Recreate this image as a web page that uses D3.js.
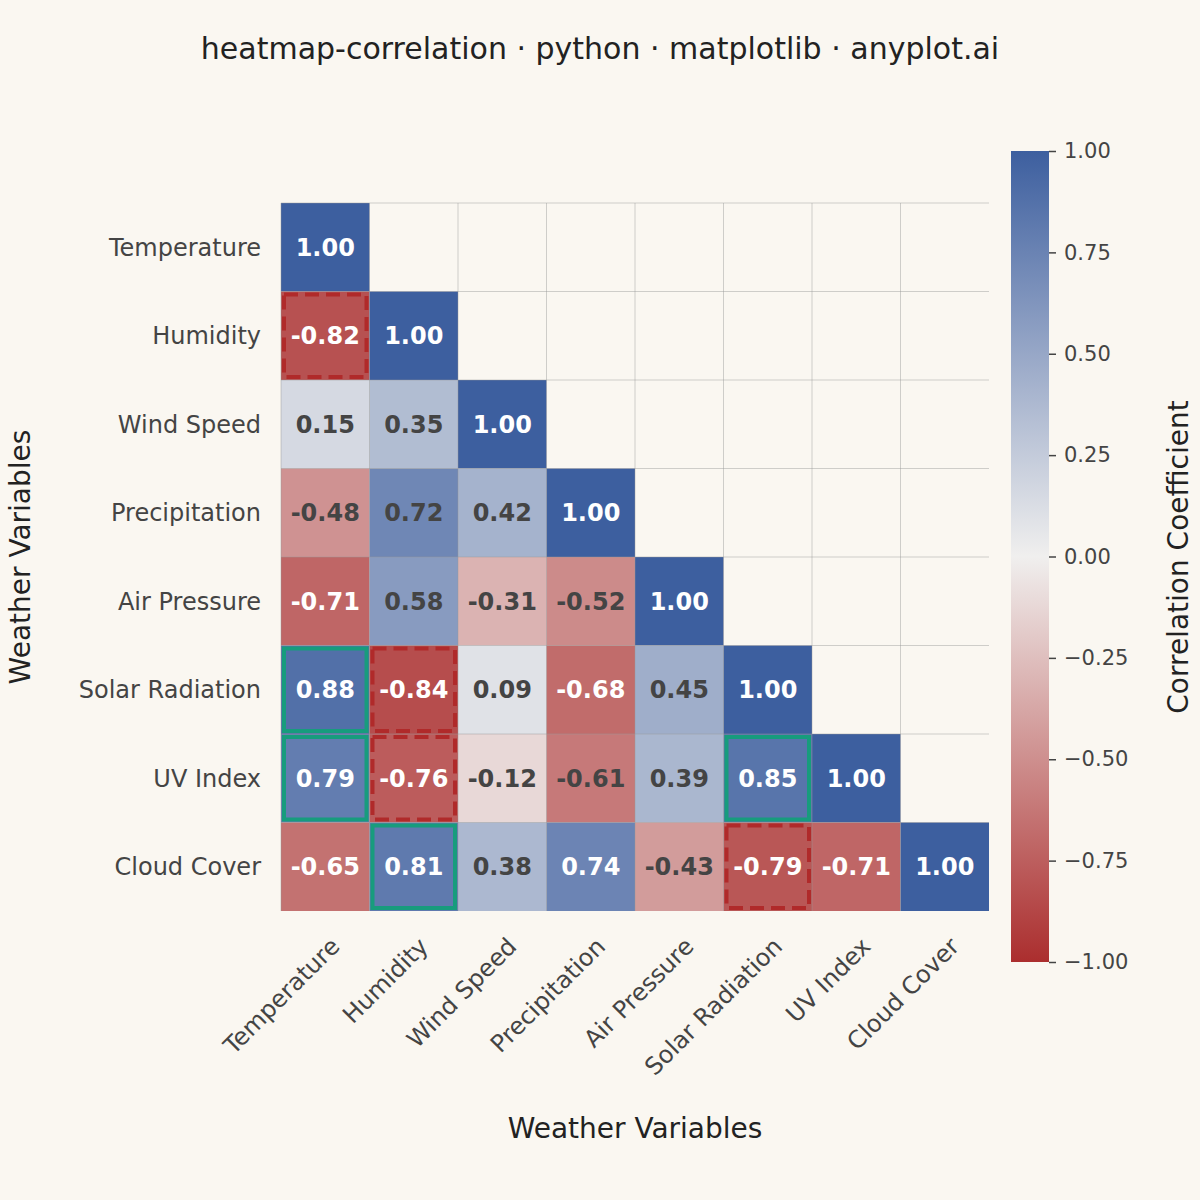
<!DOCTYPE html>
<html><head><meta charset="utf-8">
<script src="https://cdn.jsdelivr.net/npm/d3@7"></script>
<style>body{margin:0;background:#faf7f1}</style>
</head><body>
<svg id="chart" width="1200" height="1200"></svg>
<script>
var variables = ["Temperature","Humidity","Wind Speed","Precipitation","Air Pressure","Solar Radiation","UV Index","Cloud Cover"];
// lower triangle rows, incl. diagonal
var corr = [
  [1.00],
  [-0.82,1.00],
  [0.15,0.35,1.00],
  [-0.48,0.72,0.42,1.00],
  [-0.71,0.58,-0.31,-0.52,1.00],
  [0.88,-0.84,0.09,-0.68,0.45,1.00],
  [0.79,-0.76,-0.12,-0.61,0.39,0.85,1.00],
  [-0.65,0.81,0.38,0.74,-0.43,-0.79,-0.71,1.00]
];
var cbTicks = [-1,-0.75,-0.5,-0.25,0,0.25,0.5,0.75,1];

var svg = d3.select("#chart");
var font = "DejaVu Sans";
var x = d3.scaleBand().domain(variables).range([281,989]);
var y = d3.scaleBand().domain(variables).range([203,911]);
var color = d3.scaleLinear().domain([-1,0,1]).range(["#ab2e2e","#f0efee","#3d5f9f"]).interpolate(d3.interpolateRgb);

svg.append("text").attr("x",600).attr("y",59).attr("text-anchor","middle")
  .attr("font-family",font).attr("font-size",30).attr("fill","#222")
  .text("heatmap-correlation · python · matplotlib · anyplot.ai");

var g = svg.append("g");
var cells = [];
corr.forEach(function(row,i){ row.forEach(function(r,j){ cells.push({i:i,j:j,r:r}); }); });
var bw = x.bandwidth();
g.selectAll("rect.cell").data(cells).enter().append("rect")
  .attr("x",d=>x(variables[d.j])).attr("y",d=>y(variables[d.i]))
  .attr("width",bw).attr("height",bw).attr("fill",d=>color(d.r));

// grid
variables.forEach(function(v,i){
  g.append("line").attr("x1",x(v)).attr("x2",x(v)).attr("y1",203).attr("y2",911).attr("stroke","#999").attr("stroke-opacity",0.45).attr("stroke-width",1);
  g.append("line").attr("y1",y(v)).attr("y2",y(v)).attr("x1",281).attr("x2",989).attr("stroke","#999").attr("stroke-opacity",0.45).attr("stroke-width",1);
});

var strong = cells.filter(d=>d.i!==d.j && Math.abs(d.r)>=0.75);
g.selectAll("rect.hl").data(strong).enter().append("rect")
  .attr("x",d=>x(variables[d.j])+3).attr("y",d=>y(variables[d.i])+3)
  .attr("width",bw-6).attr("height",bw-6).attr("fill","none")
  .attr("stroke",d=>d.r>0?"#179c7d":"#b02a2a")
  .attr("stroke-width",4)
  .attr("stroke-dasharray",d=>d.r>0?null:"14,7");

g.selectAll("text.val").data(cells).enter().append("text")
  .attr("x",d=>x(variables[d.j])+bw/2).attr("y",d=>y(variables[d.i])+bw/2)
  .attr("dy","0.36em").attr("text-anchor","middle")
  .attr("font-family",font).attr("font-weight","bold").attr("font-size",24)
  .attr("fill",d=>(d.r>=0.73||d.r<=-0.63)?"#fff":"#444")
  .text(d=>d.r.toFixed(2));

variables.forEach(function(v){
  svg.append("text").attr("x",261).attr("y",y(v)+bw/2).attr("dy","0.36em")
    .attr("text-anchor","end").attr("font-family",font).attr("font-size",24).attr("fill","#444").text(v);
  var tx = x(v)+bw/2+4, ty = 936;
  svg.append("text").attr("transform","translate("+tx+","+ty+") rotate(-45)")
    .attr("text-anchor","end").attr("dy","0.7em").attr("font-family",font).attr("font-size",24).attr("fill","#444").text(v);
});
svg.append("text").attr("x",635).attr("y",1138).attr("text-anchor","middle")
  .attr("font-family",font).attr("font-size",28).attr("fill","#222").text("Weather Variables");
svg.append("text").attr("transform","translate(30,557) rotate(-90)").attr("text-anchor","middle")
  .attr("font-family",font).attr("font-size",28).attr("fill","#222").text("Weather Variables");

// colorbar
var cb = d3.scaleLinear().domain([-1,1]).range([962,151]);
var defs = svg.append("defs");
var grad = defs.append("linearGradient").attr("id","cbg").attr("x1",0).attr("y1",1).attr("x2",0).attr("y2",0);
[-1,-0.5,0,0.5,1].forEach(function(t){ grad.append("stop").attr("offset",(t+1)/2).attr("stop-color",color(t)); });
svg.append("rect").attr("x",1011).attr("y",151).attr("width",38).attr("height",811).attr("fill","url(#cbg)");
var ax = svg.append("g").attr("transform","translate(1049,0)")
  .call(d3.axisRight(cb).tickValues(cbTicks).tickFormat(d=>d3.format(".2f")(d).replace("-","\u2212")).tickSize(7).tickPadding(8));
ax.select(".domain").remove();
ax.selectAll("line").attr("stroke","#444").attr("stroke-width",1.5);
ax.selectAll("text").attr("font-family",font).attr("font-size",21).attr("fill","#444");
svg.append("text").attr("transform","translate(1188,557) rotate(-90)").attr("text-anchor","middle")
  .attr("font-family",font).attr("font-size",28).attr("fill","#222").text("Correlation Coefficient");
</script>
</body></html>
